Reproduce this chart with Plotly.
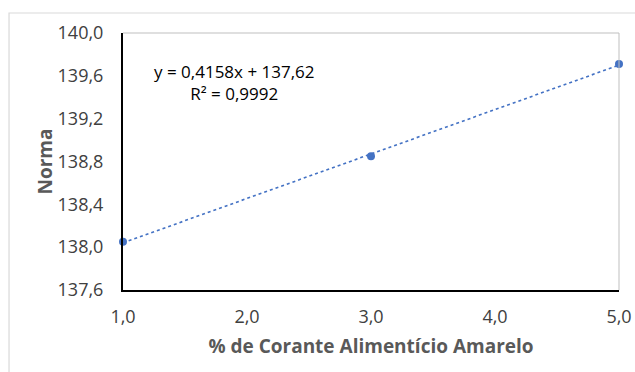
import numpy as np
import plotly.graph_objects as go

x_vals = [1.0, 3.0, 5.0]
y_vals = [138.05, 138.85, 139.71]
x_ticks = [1.0, 2.0, 3.0, 4.0, 5.0]
y_ticks = [137.6, 138.0, 138.4, 138.8, 139.2, 139.6, 140.0]
equation_text = "y = 0,4158x + 137,62<br>R² = 0,9992"
x_title = "% de Corante Alimentício Amarelo"
y_title = "Norma"

slope, intercept = np.polyfit(x_vals, y_vals, 1)
trend_x = [min(x_vals), max(x_vals)]
trend_y = [slope * v + intercept for v in trend_x]

FONT = "Open Sans"
BLUE = "#4472C4"

fig = go.Figure()
fig.add_trace(go.Scatter(x=trend_x, y=trend_y, mode="lines",
                         line=dict(color=BLUE, width=1.6, dash="dot"),
                         showlegend=False, hoverinfo="skip"))
fig.add_trace(go.Scatter(x=x_vals, y=y_vals, mode="markers",
                         marker=dict(color=BLUE, size=8),
                         showlegend=False, cliponaxis=False))

fig.add_annotation(x=1.9, y=139.54, xref="x", yref="y", text=equation_text,
                   showarrow=False, align="center",
                   font=dict(family=FONT, size=17, color="#000000"))

# outer chart border
fig.add_shape(type="rect", xref="paper", yref="paper",
              x0=-0.2298, x1=1.2, y0=1.0778, y1=-0.5,
              line=dict(color="#d9d9d9", width=1.2), layer="below")

fig.update_layout(
    width=635, height=372,
    margin=dict(l=123, r=16, t=33, b=82, autoexpand=False),
    paper_bgcolor="white", plot_bgcolor="white",
    separators=",.",
    font=dict(family=FONT, size=18, color="#404040"),
    xaxis=dict(range=[1, 5], tickvals=x_ticks, tickformat=".1f",
               showgrid=False, zeroline=False, automargin=False,
               showline=True, linecolor="#000000", linewidth=2,
               mirror=False, ticks="", ticklabelstandoff=9,
               title=dict(text="<b>" + x_title + "</b>", standoff=13,
                          font=dict(family=FONT, size=19, color="#595959"))),
    yaxis=dict(range=[137.6, 140.0], tickvals=y_ticks, tickformat=".1f",
               showgrid=False, zeroline=False, automargin=False,
               showline=True, linecolor="#000000", linewidth=2,
               ticks="", ticklabelstandoff=14,
               title=dict(text="<b>" + y_title + "</b>", standoff=0,
                          font=dict(family=FONT, size=19, color="#595959"))),
)
# top and right light border of plot area
fig.add_shape(type="line", xref="paper", yref="paper", x0=0, x1=1, y0=1, y1=1,
              line=dict(color="#bfbfbf", width=1))
fig.add_shape(type="line", xref="paper", yref="paper", x0=1, x1=1, y0=0, y1=1,
              line=dict(color="#bfbfbf", width=1))

fig.write_html("out.html")
